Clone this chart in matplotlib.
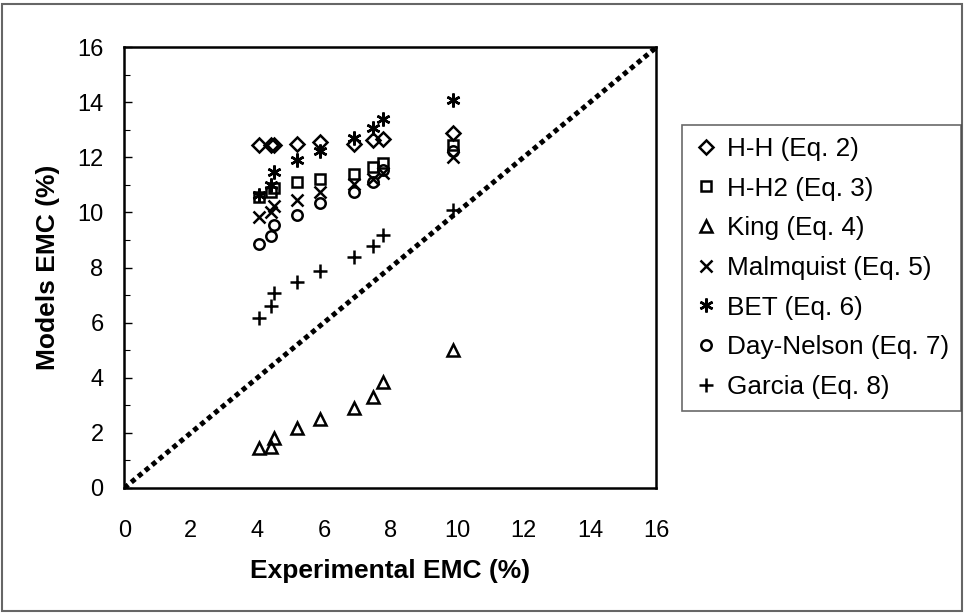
import matplotlib.pyplot as plt
from matplotlib.patches import Rectangle

plt.rcParams['font.family'] = ['Liberation Sans', 'DejaVu Sans']

# experimental EMC (%)
exp_emc = [4.06, 4.40, 4.50, 5.20, 5.88, 6.90, 7.47, 7.77, 9.87]

# model EMC (%)
hh = [12.46, 12.45, 12.46, 12.50, 12.55, 12.50, 12.62, 12.68, 12.90]
hh2 = [10.55, 10.75, 10.90, 11.10, 11.22, 11.41, 11.65, 11.80, 12.45]
king = [1.44, 1.50, 1.82, 2.16, 2.49, 2.89, 3.31, 3.85, 5.00]
malmquist = [9.84, 10.00, 10.25, 10.44, 10.74, 11.05, 11.20, 11.45, 12.00]
bet = [10.65, 11.00, 11.47, 11.89, 12.25, 12.70, 13.05, 13.40, 14.10]
day_nelson = [8.85, 9.15, 9.54, 9.92, 10.35, 10.74, 11.10, 11.55, 12.25]
garcia = [6.18, 6.62, 7.08, 7.48, 7.88, 8.40, 8.77, 9.17, 10.08]

labels = ['H-H (Eq. 2)', 'H-H2 (Eq. 3)', 'King (Eq. 4)', 'Malmquist (Eq. 5)',
          'BET (Eq. 6)', 'Day-Nelson (Eq. 7)', 'Garcia (Eq. 8)']
series = [hh, hh2, king, malmquist, bet, day_nelson, garcia]
markers = ['D', 's', '^', 'x', (6, 2, 0), 'o', '+']
sizes = [7, 7, 8, 9, 10, 7.5, 10]

fig = plt.figure(figsize=(9.64, 6.13), dpi=100)
ax = fig.add_axes([0.129, 0.204, 0.552, 0.719])

# 1:1 line
ax.plot([0, 16], [0, 16], color='black', lw=3.6, linestyle=(0, (1, 0.8)),
        dash_capstyle='butt', zorder=1)

for ys, lab, m, s in zip(series, labels, markers, sizes):
    filled = m in ('x', '+') or isinstance(m, tuple)
    ax.plot(exp_emc, ys, linestyle='none', marker=m, markersize=s,
            markerfacecolor='black' if filled else 'none',
            markeredgecolor='black', markeredgewidth=1.8, label=lab, zorder=3)

ax.set_xlim(0, 16)
ax.set_ylim(0, 16)
ax.set_xticks(range(0, 17, 2))
ax.set_yticks(range(0, 17, 2))
ax.set_yticks(range(0, 17, 1), minor=True)
ax.tick_params(axis='y', which='major', direction='in', length=6, width=1,
               labelsize=17, pad=15)
ax.tick_params(axis='y', which='minor', direction='in', length=4, width=0.8)
ax.tick_params(axis='x', which='major', length=0, labelsize=17, pad=23)
for sp in ax.spines.values():
    sp.set_linewidth(1.8)

ax.set_xlabel('Experimental EMC (%)', fontsize=19, fontweight='bold')
ax.set_ylabel('Models EMC (%)', fontsize=19, fontweight='bold')
ax.xaxis.label.set_va('center')
ax.yaxis.label.set_va('center')
ax.xaxis.set_label_coords(0.5, -0.188)
ax.yaxis.set_label_coords(-0.144, 0.5)

leg = fig.legend(loc='lower right', bbox_to_anchor=(0.997, 0.33), fontsize=18.8,
                 frameon=True, fancybox=False, edgecolor='#444444',
                 borderpad=0.45, labelspacing=0.6, handletextpad=0.3,
                 handlelength=1.0, borderaxespad=0)
leg.get_frame().set_linewidth(1.2)

fig.patches.append(Rectangle((0.002, 0.004), 0.996, 0.99, transform=fig.transFigure,
                             fill=False, edgecolor='#666666', lw=1.5))

fig.savefig('out.png', dpi=100)
